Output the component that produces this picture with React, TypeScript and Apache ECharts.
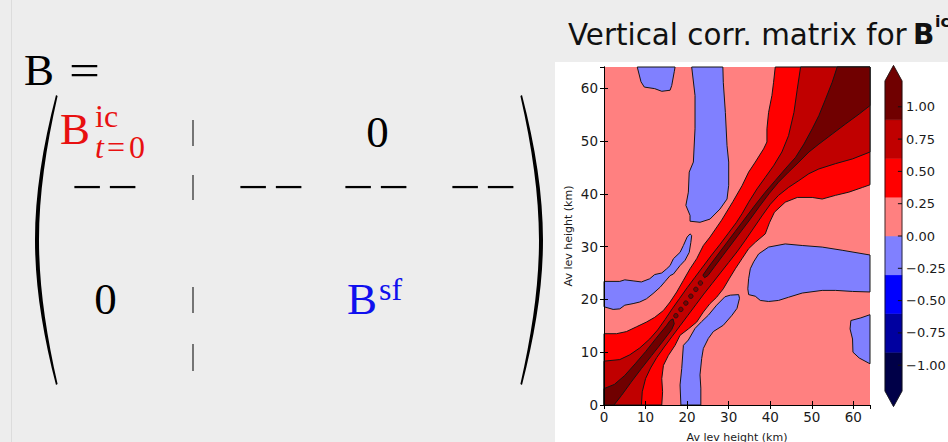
import React, { useEffect, useRef } from "react";
import * as echarts from "echarts";

// ---------- data ----------
const axisTicks = [0, 10, 20, 30, 40, 50, 60];
const cbTicks = [-1, -0.75, -0.5, -0.25, 0, 0.25, 0.5, 0.75, 1];
const cbLevels = [-1.2, -0.9, -0.6, -0.3, 0, 0.3, 0.6, 0.9, 1.2];
const cbTips = [-1.32, 1.32];
const levelColors = ["#000048", "#0000a0", "#0000ff", "#8080ff", "#ff8080", "#ff0000", "#c00000", "#700000"];

const pinkField = [[0, 0], [64, 0], [64, 64], [0, 64]];

const blueTopSmall = [[8.0, 64], [8.9, 61.2], [9.7, 60.2], [12.2, 59.9], [13.9, 59.4], [15.9, 59.6], [16.3, 60.5], [16.9, 63.1], [17.1, 64]];
const blueTopTall = [[21.1, 64], [21.9, 58.6], [21.9, 52.3], [21.5, 46.0], [20.5, 44.1], [20.3, 40.3], [19.7, 37.8], [20.7, 35.9], [20.7, 34.8], [23.1, 34.6], [25.5, 35.2], [27.9, 37.1], [29.6, 39.0], [30.0, 41.6], [30.0, 46.0], [29.6, 49.1], [29.2, 55.4], [28.7, 61.1], [28.6, 64]];
const blueLeft = [[0, 23.4], [3.8, 23.4], [5.0, 23.7], [7.0, 23.5], [9.0, 23.3], [11.0, 23.9], [12.2, 24.7], [13.9, 25.0], [15.1, 25.8], [15.9, 26.4], [16.7, 27.7], [18.3, 28.9], [19.1, 30.2], [20.0, 31.8], [20.7, 32.4], [21.1, 32.1], [20.9, 30.8], [20.5, 28.9], [19.5, 27.4], [18.3, 26.4], [16.7, 24.8], [15.9, 24.5], [14.7, 23.4], [13.5, 22.3], [11.8, 21.1], [10.2, 20.1], [8.6, 19.5], [7.0, 19.2], [5.0, 18.9], [3.8, 18.2], [2.2, 18.1], [0, 18.6]];
const blueBottom = [[18.5, 0], [18.3, 3.8], [18.7, 6.9], [19.1, 11.3], [20.3, 12.3], [21.9, 14.5], [23.5, 15.8], [25.1, 17.0], [27.1, 18.9], [29.1, 20.5], [30.4, 20.8], [32.4, 20.9], [32.6, 20.2], [32.0, 18.3], [30.8, 17.0], [28.7, 15.1], [26.3, 13.9], [25.1, 12.6], [23.9, 10.7], [23.5, 8.8], [23.1, 5.7], [23.3, 3.2], [23.3, 0]];
const blueRight = [[34.8, 23.9], [35.2, 25.8], [36.0, 27.1], [37.2, 28.6], [39.6, 29.9], [43.6, 30.5], [47.7, 30.2], [52.5, 29.9], [57.3, 29.3], [64, 28.4], [64, 21.4], [59.8, 21.5], [55.7, 21.7], [52.5, 21.7], [47.7, 21.2], [44.4, 20.4], [42.0, 19.8], [39.6, 19.6], [37.6, 19.8], [36.4, 20.6], [34.8, 20.9], [34.6, 22.0]];
const blueRightLow = [[64, 17.1], [61.8, 16.5], [59.4, 16.0], [59.2, 14.4], [59.8, 12.5], [59.9, 10.0], [61.4, 8.9], [64, 7.8]];

const redAbove03 = [[0, 0], [0, 13.5], [3.0, 13.5], [5.4, 13.9], [7.8, 14.8], [10.2, 15.7], [12.2, 16.6], [14.3, 17.9], [15.9, 19.5], [17.5, 21.4], [19.1, 23.6], [20.7, 25.8], [22.3, 27.7], [23.9, 30.2], [25.5, 31.8], [28.3, 35.0], [31.0, 38.5], [33.2, 41.5], [34.8, 44.1], [36.4, 46.0], [38.4, 48.5], [39.2, 49.8], [39.2, 52.3], [39.6, 55.4], [40.4, 58.6], [40.8, 61.1], [41.2, 64], [64, 64], [64, 41.7], [62.2, 41.2], [58.9, 40.3], [55.7, 39.7], [52.5, 39.0], [50.1, 39.3], [46.5, 39.3], [43.6, 38.4], [41.0, 36.5], [39.8, 34.5], [38.8, 32.4], [36.4, 30.8], [34.8, 29.6], [33.2, 27.7], [31.6, 25.8], [30.2, 24.0], [28.7, 22.0], [27.1, 20.4], [25.5, 19.2], [23.9, 17.6], [22.3, 15.7], [20.3, 14.4], [18.3, 13.2], [17.1, 11.3], [15.5, 9.4], [14.3, 7.5], [13.9, 5.0], [14.1, 2.5], [13.9, 0]];
const redAbove06 = [[0, 0], [0, 8.3], [3.8, 8.6], [6.2, 9.5], [8.6, 10.8], [11.0, 12.5], [12.9, 14.2], [14.7, 16.2], [16.4, 18.2], [18.2, 20.2], [20.0, 22.2], [21.9, 24.2], [23.9, 26.3], [25.9, 28.4], [27.9, 30.4], [29.8, 32.4], [31.8, 34.5], [33.2, 36.2], [34.8, 38.4], [36.8, 40.9], [38.8, 43.1], [40.8, 45.3], [42.8, 47.9], [44.4, 51.0], [45.7, 55.4], [46.5, 59.8], [47.3, 64], [64, 64], [64, 47.9], [59.8, 46.6], [55.7, 45.7], [51.7, 44.7], [49.3, 43.8], [46.9, 42.5], [44.4, 41.2], [42.0, 39.7], [40.0, 38.0], [38.0, 35.8], [36.0, 33.5], [34.0, 31.2], [32.0, 29.0], [30.0, 27.0], [28.0, 25.0], [26.0, 23.0], [24.0, 21.0], [22.1, 19.0], [20.2, 17.0], [18.3, 15.0], [16.4, 13.0], [14.5, 11.0], [12.7, 9.0], [11.2, 7.0], [10.0, 5.0], [9.2, 2.5], [9.0, 0]];
const redAbove09Lower = [[0, 0], [2.4, 0], [4.2, 1.8], [6.5, 4.3], [9.0, 6.9], [11.5, 9.4], [14.0, 11.9], [16.3, 14.3], [16.9, 15.4], [16.6, 16.3], [15.9, 16.0], [15.0, 15.0], [12.5, 12.6], [10.0, 10.1], [7.5, 7.8], [5.0, 5.6], [2.5, 3.9], [0, 3.1]];
const redAbove09Upper = [[24.2, 24.1], [23.8, 24.6], [25.5, 26.5], [27.5, 28.6], [29.5, 30.7], [31.6, 32.9], [34.0, 35.4], [36.4, 37.9], [38.8, 40.3], [41.2, 42.5], [43.6, 44.7], [46.1, 46.9], [48.1, 49.4], [50.1, 52.3], [51.7, 54.8], [53.3, 57.9], [54.9, 61.1], [56.1, 64], [64, 64], [64, 56.7], [61.4, 55.1], [58.1, 53.2], [54.9, 51.3], [51.7, 49.4], [49.3, 47.9], [46.9, 46.0], [44.4, 44.1], [42.0, 42.2], [39.7, 40.0], [37.4, 37.6], [35.1, 35.1], [32.9, 32.8], [30.7, 30.5], [28.6, 28.3], [26.6, 26.2], [25.0, 24.5]];
const redAbove09Dots = [[17.3, 16.9], [18.5, 18.1], [19.7, 19.3], [20.9, 20.6], [22.1, 21.9], [23.2, 23.1]];

// ---------- helpers ----------
const contourShapes = [
  { poly: pinkField, color: levelColors[4], line: false },
  { poly: blueTopSmall, color: levelColors[3], line: true },
  { poly: blueTopTall, color: levelColors[3], line: true },
  { poly: blueLeft, color: levelColors[3], line: true },
  { poly: blueBottom, color: levelColors[3], line: true },
  { poly: blueRight, color: levelColors[3], line: true },
  { poly: blueRightLow, color: levelColors[3], line: true },
  { poly: redAbove03, color: levelColors[5], line: true },
  { poly: redAbove06, color: levelColors[6], line: true },
  { poly: redAbove09Lower, color: levelColors[7], line: true },
  { poly: redAbove09Upper, color: levelColors[7], line: true },
];

const PAREN_D = "M22 0 C8.5 52 1 100 1 145 C1 190 8.5 238 22 290 L23.6 289 C11.8 237 5 190 5 145 C5 100 11.8 53 23.6 1 Z";
let parenRegistered = false;
function registerParen() {
  if (parenRegistered) return;
  echarts.graphic.registerShape("bigParen", echarts.graphic.extendPath(PAREN_D, {}));
  parenRegistered = true;
}

const SERIF = "'Liberation Serif', 'Times New Roman', serif";
const SANS = "'DejaVu Sans', sans-serif";
const RED = "#e81010";
const BLUE = "#1010ee";

function txt(text: string, x: number, y: number, size: number, fill: string, opts: any = {}) {
  return {
    type: "text",
    x,
    y,
    z: 20,
    silent: true,
    scaleX: opts.scaleX || 1,
    style: {
      text,
      fill,
      font: `${opts.style || "normal"} ${opts.weight || "normal"} ${size}px ${opts.family || SERIF}`,
      align: opts.align || "left",
      verticalAlign: "middle",
      lineHeight: opts.lineHeight || size,
      rich: opts.rich,
    },
  };
}

const fmtAxis = (v: number) => (axisTicks.indexOf(v) >= 0 ? String(v) : "");
const fmtCb = (v: number) => {
  const t = cbTicks.find((c) => Math.abs(c - v) < 1e-6);
  if (t === undefined) return "";
  return (t < 0 ? "\u2212" : "") + Math.abs(t).toFixed(2);
};

export default function App() {
  const ref = useRef<HTMLDivElement>(null);
  useEffect(() => {
    document.body.style.margin = "0";
    registerParen();
    const chart = echarts.init(ref.current!, null, { renderer: "svg" });

    const mainAxisCommon = {
      type: "value",
      min: 0,
      max: 64,
      interval: 10,
      gridIndex: 0,
      z: 10,
      splitLine: { show: false },
      axisLine: { show: true, lineStyle: { color: "#000", width: 1 } },
      axisTick: { show: true, inside: true, length: 4, lineStyle: { color: "#000", width: 1 } },
    };
    const labelStyle = { color: "#1a1a1a", fontSize: 13.5, fontFamily: SANS, formatter: fmtAxis, showMaxLabel: false };
    const nameStyle = { color: "#1a1a1a", fontSize: 11, fontFamily: SANS };

    const dashes = [
      [120, 146],
      [175, 200],
      [287, 313],
      [344, 371],
    ];
    const dashRowX = [105, 271, 376, 483];
    const subRich = {
      t: { font: `italic normal 32px ${SERIF}`, fill: RED, padding: [0, 2, 0, 0], lineHeight: 20 },
      e: { font: `normal normal 32px ${SERIF}`, fill: RED, padding: [0, 4, 0, 1], lineHeight: 20 },
      n: { font: `normal normal 32px ${SERIF}`, fill: RED, lineHeight: 20 },
    };

    const option: any = {
      animation: false,
      backgroundColor: "#ededed",
      grid: [
        { left: 604, top: 67, width: 266, height: 338, outerBoundsMode: "none", containLabel: false },
        { left: 885, top: 42.2, width: 17, height: 387.6, outerBoundsMode: "none", containLabel: false },
      ],
      xAxis: [
        {
          ...mainAxisCommon,
          position: "bottom",
          axisLabel: { ...labelStyle, margin: 5 },
          name: "Av lev height (km)",
          nameLocation: "middle",
          nameGap: 27,
          nameMoveOverlap: false,
          nameTextStyle: nameStyle,
        },
        { ...mainAxisCommon, position: "top", axisLabel: { show: false } },
        { type: "value", gridIndex: 1, min: 0, max: 1, show: false },
      ],
      yAxis: [
        {
          ...mainAxisCommon,
          position: "left",
          axisLabel: { ...labelStyle, margin: 6 },
          name: "Av lev height (km)",
          nameLocation: "middle",
          nameGap: 30,
          nameMoveOverlap: false,
          nameRotate: 90,
          nameTextStyle: nameStyle,
        },
        { ...mainAxisCommon, position: "right", axisLabel: { show: false } },
        {
          type: "value",
          gridIndex: 1,
          min: -1.5,
          max: 1.5,
          interval: 0.25,
          position: "right",
          splitLine: { show: false },
          axisLine: { show: false },
          axisTick: { show: false },
          axisLabel: { show: true, margin: 4, color: "#1a1a1a", fontSize: 13, fontFamily: SANS, formatter: fmtCb },
        },
      ],
      series: [
        {
          type: "custom",
          xAxisIndex: 0,
          yAxisIndex: 0,
          z: 2,
          silent: true,
          data: contourShapes.map((s, i) => [s.poly[0][0], s.poly[0][1], i]),
          encode: { x: 0, y: 1 },
          renderItem: (params: any, api: any) => {
            const s = contourShapes[params.dataIndex];
            return {
              type: "polygon",
              shape: { points: s.poly.map((p) => api.coord(p)) },
              style: { fill: s.color, stroke: s.line ? "#151515" : "none", lineWidth: 1, lineJoin: "round" },
            };
          },
        },
        {
          type: "scatter",
          xAxisIndex: 0,
          yAxisIndex: 0,
          z: 3,
          silent: true,
          symbol: "circle",
          symbolSize: 4.5,
          data: redAbove09Dots,
          itemStyle: { color: levelColors[7], borderColor: "#151515", borderWidth: 1 },
        },
        {
          type: "custom",
          xAxisIndex: 2,
          yAxisIndex: 2,
          z: 2,
          silent: true,
          data: levelColors.map((c, i) => [0, cbLevels[i], i]),
          encode: { x: 0, y: 1 },
          renderItem: (params: any, api: any) => {
            const i = params.dataIndex;
            const lo = cbLevels[i];
            const hi = cbLevels[i + 1];
            let pts: number[][];
            if (i === 0) {
              pts = [[0, hi], [1, hi], [1, cbLevels[0]], [0.5, cbTips[0]], [0, cbLevels[0]]];
            } else if (i === levelColors.length - 1) {
              pts = [[0, lo], [1, lo], [1, cbLevels[cbLevels.length - 1]], [0.5, cbTips[1]], [0, cbLevels[cbLevels.length - 1]]];
            } else {
              pts = [[0, lo], [1, lo], [1, hi], [0, hi]];
            }
            return {
              type: "polygon",
              shape: { points: pts.map((p) => api.coord(p)) },
              style: { fill: levelColors[i], stroke: levelColors[i], lineWidth: 0.5 },
            };
          },
        },
        {
          type: "custom",
          xAxisIndex: 2,
          yAxisIndex: 2,
          z: 4,
          silent: true,
          data: [[0, 0]],
          encode: { x: 0, y: 1 },
          renderItem: (params: any, api: any) => {
            const n = cbLevels.length - 1;
            const outline = [[0, cbLevels[0]], [0.5, cbTips[0]], [1, cbLevels[0]], [1, cbLevels[n]], [0.5, cbTips[1]], [0, cbLevels[n]]];
            const children: any[] = [
              {
                type: "polygon",
                shape: { points: outline.map((p) => api.coord(p)) },
                style: { fill: "none", stroke: "#111", lineWidth: 0.8 },
              },
            ];
            cbTicks.forEach((t) => {
              const a = api.coord([0.76, t]);
              const b = api.coord([1, t]);
              children.push({ type: "line", shape: { x1: a[0], y1: a[1], x2: b[0], y2: b[1] }, style: { stroke: "#111", lineWidth: 1 } });
            });
            return { type: "group", children };
          },
        },
      ],
      graphic: [
        { type: "rect", z: -5, silent: true, shape: { x: 555, y: 62, width: 393, height: 380 }, style: { fill: "#ffffff" } },
        { type: "line", z: -5, silent: true, shape: { x1: 11.5, y1: 0, x2: 11.5, y2: 442 }, style: { stroke: "#dcdcdc", lineWidth: 1 } },
        // title
        txt("Vertical corr. matrix for", 568, 34.8, 29.4, "#111", { family: SANS }),
        txt("B", 913, 34.8, 28, "#111", { family: SANS, weight: "bold" }),
        txt("ic", 935, 21, 16, "#111", { family: SANS, weight: "bold" }),
        // formula
        txt("B", 24, 69.8, 45, "#000"),
        txt("=", 69, 69.8, 45, "#000", { scaleX: 1.22 }),
        { type: "bigParen", x: 34, y: 95, z: 20, silent: true, style: { fill: "#000" } },
        { type: "bigParen", x: 544, y: 95, scaleX: -1, z: 20, silent: true, style: { fill: "#000" } },
        txt("B", 60, 129, 45, RED),
        txt("ic", 95, 116.2, 32, RED, { lineHeight: 20 }),
        txt("{t|t}{e|=}{n|0}", 95, 147.2, 32, RED, { lineHeight: 20, rich: subRich }),
        txt("0", 377.5, 131.8, 45, "#000", { align: "center" }),
        ...dashRowX.map((x) => txt("\u2212\u200a\u2212", x, 187, 45, "#000", { align: "center", scaleX: 1.22 })),
        txt("0", 105.5, 298.8, 45, "#000", { align: "center" }),
        txt("B", 347, 298.8, 45, BLUE),
        txt("sf", 379, 289.2, 32, BLUE, { lineHeight: 20 }),
        ...dashes.map((d) => ({
          type: "line",
          z: 20,
          silent: true,
          shape: { x1: 193, y1: d[0], x2: 193, y2: d[1] },
          style: { stroke: "#333", lineWidth: 1.3 },
        })),
      ],
    };
    chart.setOption(option);
    return () => chart.dispose();
  }, []);
  return <div ref={ref} style={{ width: 948, height: 442 }} />;
}
